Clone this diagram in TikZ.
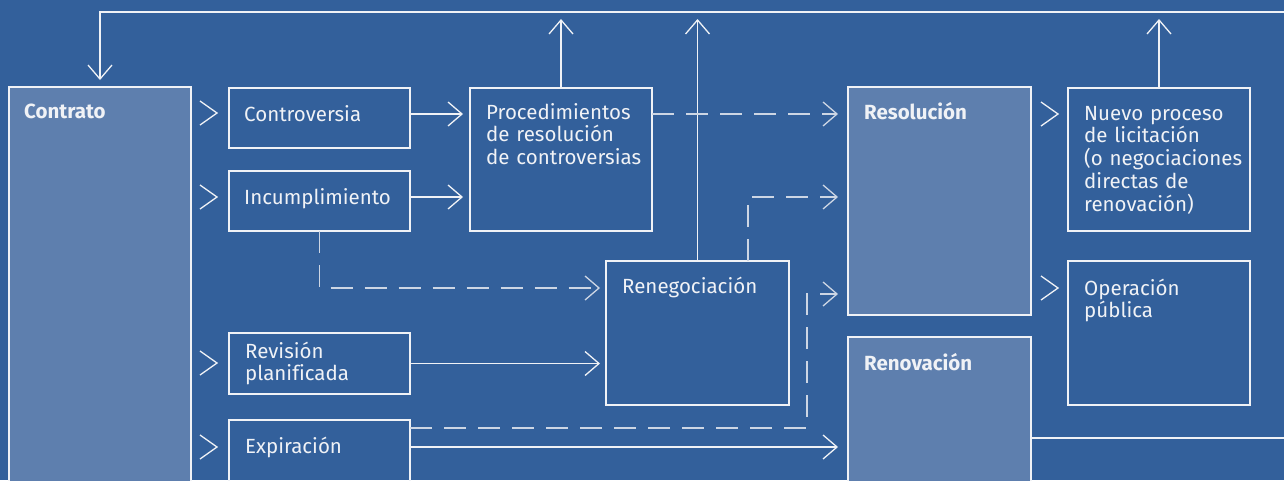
\documentclass[tikz,border=0pt]{standalone}
\usepackage{fontspec}
\setmainfont{Fira Sans}[Ligatures=NoCommon]
\usetikzlibrary{arrows.meta,calc}
\definecolor{bg}{RGB}{51,96,155}
\definecolor{lightbox}{RGB}{94,127,174}
\definecolor{ln}{RGB}{240,242,246}
\definecolor{dln}{RGB}{205,214,228}
\begin{document}
\begin{tikzpicture}[x=1pt,y=-1pt,
 box/.style={draw=ln, line width=1.5pt, anchor=north west, inner sep=0pt, outer sep=0pt},
 mainbox/.style={box, fill=lightbox, line width=2pt},
 txt/.style={anchor=base west, inner sep=0pt, text=ln, font=\fontsize{20.5}{22.8}\selectfont, align=left, text width=170pt},
 btxt/.style={txt, font=\fontsize{20.5}{22.8}\selectfont\bfseries},
 conn/.style={draw=ln, line width=1.3pt, -{Straight Barb[length=14pt,width=24pt,line width=1.3pt]}},
 dconn/.style={conn, draw=dln, dash pattern=on 22pt off 12pt},
 chev/.style={draw=ln, line width=1.3pt},
 plainline/.style={draw=ln, line width=1.3pt}
]
\fill[bg] (0,0) rectangle (1284,480);
\useasboundingbox (0,0) rectangle (1284,480);
\clip (0,0) rectangle (1284,480);

% boxes
\node[mainbox, minimum width=182pt, minimum height=420pt] (contrato) at (9,87) {};
\node[box, minimum width=181pt, minimum height=60pt] (contr) at (229,88) {};
\node[box, minimum width=181pt, minimum height=60pt] (inc) at (229,171) {};
\node[box, minimum width=181pt, minimum height=61pt] (rev) at (229,333) {};
\node[box, minimum width=181pt, minimum height=90pt] (exp) at (229,420) {};
\node[box, minimum width=182pt, minimum height=143pt] (proc) at (470,88) {};
\node[box, minimum width=183pt, minimum height=144pt] (reneg) at (606,261) {};
\node[mainbox, minimum width=183pt, minimum height=228pt] (resol) at (848,87) {};
\node[mainbox, minimum width=183pt, minimum height=170pt] (renov) at (848,337) {};
\node[box, minimum width=182pt, minimum height=143pt] (nuevo) at (1068,88) {};
\node[box, minimum width=182pt, minimum height=144pt] (oper) at (1068,261) {};

% texts
\node[btxt] (tcontrato) at (24,118) {Contrato};
\node[txt] (tcontr) at (244,121) {Controversia};
\node[txt] (tinc) at (244,204) {Incumplimiento};
\node[txt] (trev) at (245,358) {Revisión\\planificada};
\node[txt] (texp) at (245,453) {Expiración};
\node[txt] (tproc) at (486,119) {Procedimientos\\de resolución\\de controversias};
\node[txt] (treneg) at (622,293) {Renegociación};
\node[btxt] (tresol) at (864,119) {Resolución};
\node[btxt] (trenov) at (864,370) {Renovación};
\node[txt] (tnuevo) at (1084,120) {Nuevo proceso\\de licitación\\(o negociaciones\\directas de\\renovación)};
\node[txt] (toper) at (1084,295) {Operación\\pública};

% helper coordinates
\coordinate (tr) at (1290,12);
\coordinate (br) at (1290,438);
\coordinate (y114) at (0,114);
\coordinate (y197) at (0,197);
\coordinate (y288) at (0,288);
\coordinate (y294) at (0,294);
\coordinate (y428) at (0,428);
\coordinate (y447) at (0,447);
\coordinate (x748) at (748,0);
\coordinate (c807) at (807,294);

% feedback loop
\draw[conn, shorten >=7pt] (tr) -- (tr -| contrato.north) -- (contrato.north);
\draw[conn, shorten >=7pt] (proc.north) -- (proc.north |- tr);
\draw[conn, shorten >=7pt] (reneg.north) -- (reneg.north |- tr);
\draw[conn, shorten >=7pt] (nuevo.north) -- (nuevo.north |- tr);
\draw[plainline] (br -| renov.east) -- (br);

% connectors
\draw[conn, shorten >=7pt] (contr.east |- y114) -- (proc.west |- y114);
\draw[conn, shorten >=7pt] (inc.east |- y197) -- (proc.west |- y197);
\draw[dconn, shorten >=10pt] (proc.east |- y114) -- (resol.west |- y114);
\draw[dconn, shorten >=10pt] (reneg.north -| x748) |- (resol.west |- y197);
\draw[dconn, shorten >=6pt] (inc.south) |- (reneg.west |- y288);
\draw[conn, shorten >=6pt] (rev.east) -- (reneg.west |- rev.east);
\draw[dconn, shorten >=10pt] (exp.east |- y428) -| (c807) -- (resol.west |- y294);
\draw[conn, shorten >=10pt] (exp.east |- y447) -- (renov.west |- y447);

% chevrons
\foreach \cx/\cy in {200/113, 200/197, 200/363, 200/447, 1041/114, 1041/288}
  \draw[chev] (\cx,\cy-12) -- (\cx+17,\cy) -- (\cx,\cy+12);
\end{tikzpicture}
\end{document}
